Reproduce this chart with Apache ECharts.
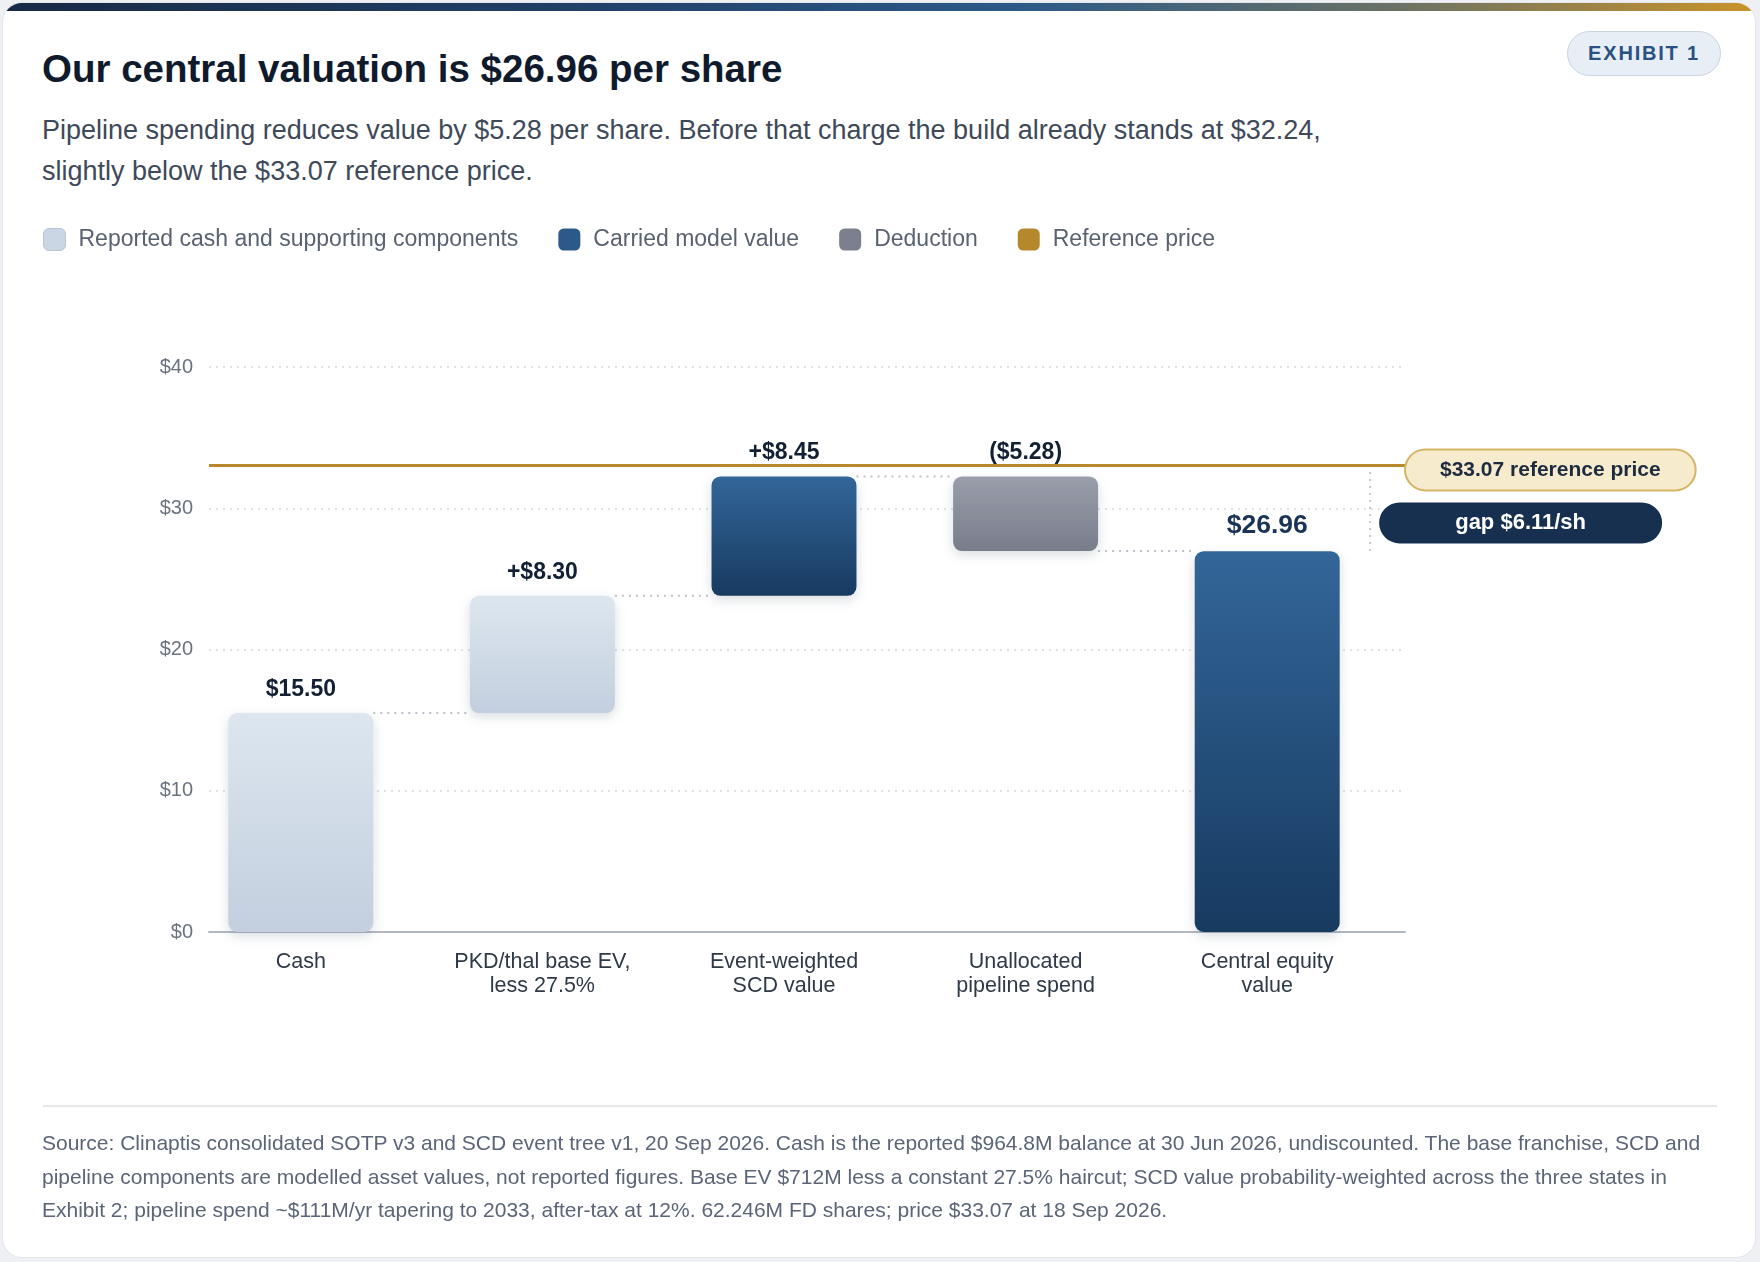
<!DOCTYPE html>
<html>
<head>
<meta charset="utf-8">
<script src="https://cdn.jsdelivr.net/npm/echarts@6/dist/echarts.min.js"></script>
<style>
  html, body { margin: 0; padding: 0; width: 1760px; height: 1262px; overflow: hidden; background: #eef0f3; }
  body { position: relative; font-family: "Liberation Sans", Arial, Helvetica, sans-serif; }
  .card { position: absolute; left: 2px; top: 2px; width: 1754px; height: 1256px; background: #fff;
          border: 1px solid #e2e5ea; border-radius: 20px; overflow: hidden; box-sizing: border-box; }
  .topbar { position: absolute; left: 0; top: 0; right: 0; height: 8px;
            background: linear-gradient(90deg, #172a45 0%, #22426b 35%, #2c5a88 58%, #6c7264 80%, #c9932a 100%); }
  .title { position: absolute; left: 42px; top: 50px; margin: 0; font-size: 38.5px; line-height: 38px;
           font-weight: bold; color: #0f1b2d; white-space: nowrap; }
  .sub { position: absolute; left: 42px; top: 110px; font-size: 27px; line-height: 41px; color: #3e4959; white-space: nowrap; }
  .exhibit { position: absolute; left: 1567px; top: 31px; width: 154px; height: 45px; box-sizing: border-box;
             border: 1.5px solid #c9d4e1; background: #e8eef5; border-radius: 23px; text-align: center;
             line-height: 42px; font-size: 20px; font-weight: bold; letter-spacing: 1.8px; color: #2a5183; }
  .rule { position: absolute; left: 43px; top: 1105px; width: 1674px; height: 2px; background: #e5e7eb; }
  .foot { position: absolute; left: 42px; top: 1126px; font-size: 21px; line-height: 33.5px; color: #5b6577; white-space: nowrap; }
  #chart { position: absolute; left: 0; top: 0; width: 1760px; height: 1262px; }
</style>
</head>
<body>
<div class="card"><div class="topbar"></div></div>
<div class="title">Our central valuation is $26.96 per share</div>
<div class="sub">Pipeline spending reduces value by $5.28 per share. Before that charge the build already stands at $32.24,<br>slightly below the $33.07 reference price.</div>
<div class="exhibit">EXHIBIT 1</div>
<div id="chart"></div>
<div class="rule"></div>
<div class="foot">Source: Clinaptis consolidated SOTP v3 and SCD event tree v1, 20 Sep 2026. Cash is the reported $964.8M balance at 30 Jun 2026, undiscounted. The base franchise, SCD and<br>pipeline components are modelled asset values, not reported figures. Base EV $712M less a constant 27.5% haircut; SCD value probability-weighted across the three states in<br>Exhibit 2; pipeline spend ~$111M/yr tapering to 2033, after-tax at 12%. 62.246M FD shares; price $33.07 at 18 Sep 2026.</div>
<script>
// waterfall steps, $ per share
const categories = ['Cash', 'PKD/thal base EV,\nless 27.5%', 'Event-weighted\nSCD value', 'Unallocated\npipeline spend', 'Central equity\nvalue'];
const stepValues = [15.50, 8.30, 8.45, -5.28];
const centralValue = 26.96;
const referencePrice = 33.07;
const barKinds = ['support', 'support', 'carried', 'deduction', 'carried'];
const yTicks = { min: 0, max: 40, interval: 10 };

const FONT = '"Liberation Sans", Arial, Helvetica, sans-serif';
const money = v => '$' + Math.abs(v).toFixed(2);

// build the floating bars
var run = 0;
var baseData = [], heightData = [], levels = [], labelText = [];
stepValues.forEach(function (v, i) {
  var start = run;
  run = +(run + v).toFixed(2);
  baseData.push(Math.min(start, run));
  heightData.push(Math.abs(v));
  levels.push(run);
  labelText.push(i === 0 ? money(v) : v > 0 ? '+' + money(v) : '(' + money(v) + ')');
});
baseData.push(0);
heightData.push(centralValue);
labelText.push(money(centralValue));

function pick(kind) {
  return heightData.map(function (h, i) { return barKinds[i] === kind ? h : '-'; });
}
function grad(top, bottom) {
  return new echarts.graphic.LinearGradient(0, 0, 0, 1, [
    { offset: 0, color: top }, { offset: 1, color: bottom }
  ]);
}
var shadow = { shadowBlur: 12, shadowOffsetY: 4, shadowColor: 'rgba(20,40,70,0.16)' };

function barSeries(name, kind, top, bottom) {
  return {
    name: name,
    type: 'bar',
    stack: 'wf',
    barWidth: '60%',
    xAxisIndex: 1,
    yAxisIndex: 1,
    data: pick(kind),
    itemStyle: Object.assign({ color: grad(top, bottom), borderRadius: 9 }, shadow),
    label: {
      show: true,
      position: 'top',
      distance: 12,
      fontFamily: FONT,
      fontWeight: 'bold',
      fontSize: 23,
      color: '#131f33',
      formatter: function (p) { return labelText[p.dataIndex]; }
    },
    z: 3
  };
}

var chartDom = document.getElementById('chart');
var myChart = echarts.init(chartDom);
var option;

var series = [
  {
    name: 'base',
    type: 'bar',
    stack: 'wf',
    barWidth: '60%',
    xAxisIndex: 1,
    yAxisIndex: 1,
    data: baseData,
    itemStyle: { color: 'transparent' },
    silent: true
  },
  barSeries('Reported cash and supporting components', 'support', '#dde6ef', '#c3cfdf'),
  barSeries('Carried model value', 'carried', '#336699', '#173a60'),
  barSeries('Deduction', 'deduction', '#9a9eab', '#797d8b'),
  {
    name: 'Reference price',
    type: 'line',
    xAxisIndex: 0,
    yAxisIndex: 0,
    data: [],
    markLine: {
      silent: true,
      symbol: 'none',
      lineStyle: { color: '#b8892e', width: 3, type: 'solid' },
      label: {
        position: 'end',
        distance: 1,
        offset: [0, 5],
        formatter: money(referencePrice) + ' reference price',
        fontFamily: FONT,
        fontWeight: 'bold',
        fontSize: 21,
        color: '#1c2b40',
        backgroundColor: '#f6ebcc',
        borderColor: '#d5b465',
        borderWidth: 2,
        borderRadius: 20,
        padding: [9, 34]
      },
      data: [{ yAxis: referencePrice }]
    },
    z: 2
  },
  {
    // dotted connectors between bar edges
    name: 'connectors',
    type: 'custom',
    xAxisIndex: 1,
    yAxisIndex: 1,
    silent: true,
    data: levels.map(function (l, i) { return [i, l]; }),
    renderItem: function (params, api) {
      var p = api.coord([api.value(0), api.value(1)]);
      var band = api.size([1, 0])[0];
      return {
        type: 'line',
        shape: { x1: p[0] + band * 0.3, y1: p[1], x2: p[0] + band * 0.7, y2: p[1] },
        style: { stroke: '#bcc2cb', lineWidth: 2, lineDash: [2, 5] }
      };
    },
    z: 1
  },
  {
    // gap between central value and reference price
    name: 'gap',
    type: 'custom',
    xAxisIndex: 1,
    yAxisIndex: 1,
    silent: true,
    clip: false,
    data: [[4, referencePrice, centralValue]],
    renderItem: function (params, api) {
      var top = api.coord([api.value(0), api.value(1)]);
      var bot = api.coord([api.value(0), api.value(2)]);
      var band = api.size([1, 0])[0];
      var x = top[0] + band * 0.426;
      var cy = top[1] + 58;
      var gap = (api.value(1) - api.value(2)).toFixed(2);
      return {
        type: 'group',
        children: [
          { type: 'line', shape: { x1: x, y1: top[1], x2: x, y2: bot[1] },
            style: { stroke: '#c3c8cf', lineWidth: 2, lineDash: [2, 5] } },
          { type: 'rect', shape: { x: x + 9, y: cy - 20.5, width: 283, height: 41, r: 20.5 },
            style: { fill: '#17304f' } },
          { type: 'text', x: x + 9 + 141.5, y: cy,
            style: { text: 'gap $' + gap + '/sh', fill: '#ffffff', font: 'bold 22px ' + FONT,
                     align: 'center', verticalAlign: 'middle' } }
        ]
      };
    },
    z: 4
  }
];

option = {
  animation: false,
  textStyle: { fontFamily: FONT },
  legend: {
    left: 38,
    top: 223,
    icon: 'roundRect',
    itemWidth: 22,
    itemHeight: 22,
    itemGap: 40,
    selectedMode: false,
    textStyle: { fontSize: 23, color: '#5a6271', padding: [0, 0, 0, 8] },
    data: [
      { name: 'Reported cash and supporting components', itemStyle: { color: '#cbd6e4', borderColor: '#b8c5d5', borderWidth: 1 } },
      { name: 'Carried model value', itemStyle: { color: '#2b5a8a' } },
      { name: 'Deduction', itemStyle: { color: '#7b7f8e' } },
      { name: 'Reference price', itemStyle: { color: '#b5882c' }, lineStyle: { opacity: 0 } }
    ]
  },
  grid: [
    // frame: gridlines, axis line, y labels
    { left: 209, right: 355, top: 367, bottom: 330 },
    // bars and category labels
    { left: 180, right: 372, top: 367, bottom: 330 }
  ],
  xAxis: [
    {
      type: 'category',
      gridIndex: 0,
      data: categories,
      axisTick: { show: false },
      axisLabel: { show: false },
      axisLine: { lineStyle: { color: '#b3b8c0', width: 2 } }
    },
    {
      type: 'category',
      gridIndex: 1,
      data: categories,
      axisTick: { show: false },
      axisLine: { show: false },
      axisLabel: { fontSize: 21.5, lineHeight: 24, color: '#2f3947', margin: 18, interval: 0 }
    }
  ],
  yAxis: [
    {
      type: 'value',
      gridIndex: 0,
      min: yTicks.min,
      max: yTicks.max,
      interval: yTicks.interval,
      axisLabel: { fontSize: 20, color: '#6b7280', margin: 16, formatter: function (v) { return '$' + v; } },
      splitLine: { lineStyle: { color: '#dfe3e8', width: 2, type: [2, 5] } }
    },
    {
      type: 'value',
      gridIndex: 1,
      min: yTicks.min,
      max: yTicks.max,
      interval: yTicks.interval,
      show: false,
      splitLine: { show: false }
    }
  ],
  series: series
};

// larger total label
option.series[2].label.formatter = function (p) {
  return p.dataIndex === 4 ? '{big|' + labelText[4] + '}' : labelText[p.dataIndex];
};
option.series[2].label.rich = { big: { fontSize: 26.5, fontWeight: 'bold', color: '#1a3457', fontFamily: FONT } };

option && myChart.setOption(option);
</script>
</body>
</html>
